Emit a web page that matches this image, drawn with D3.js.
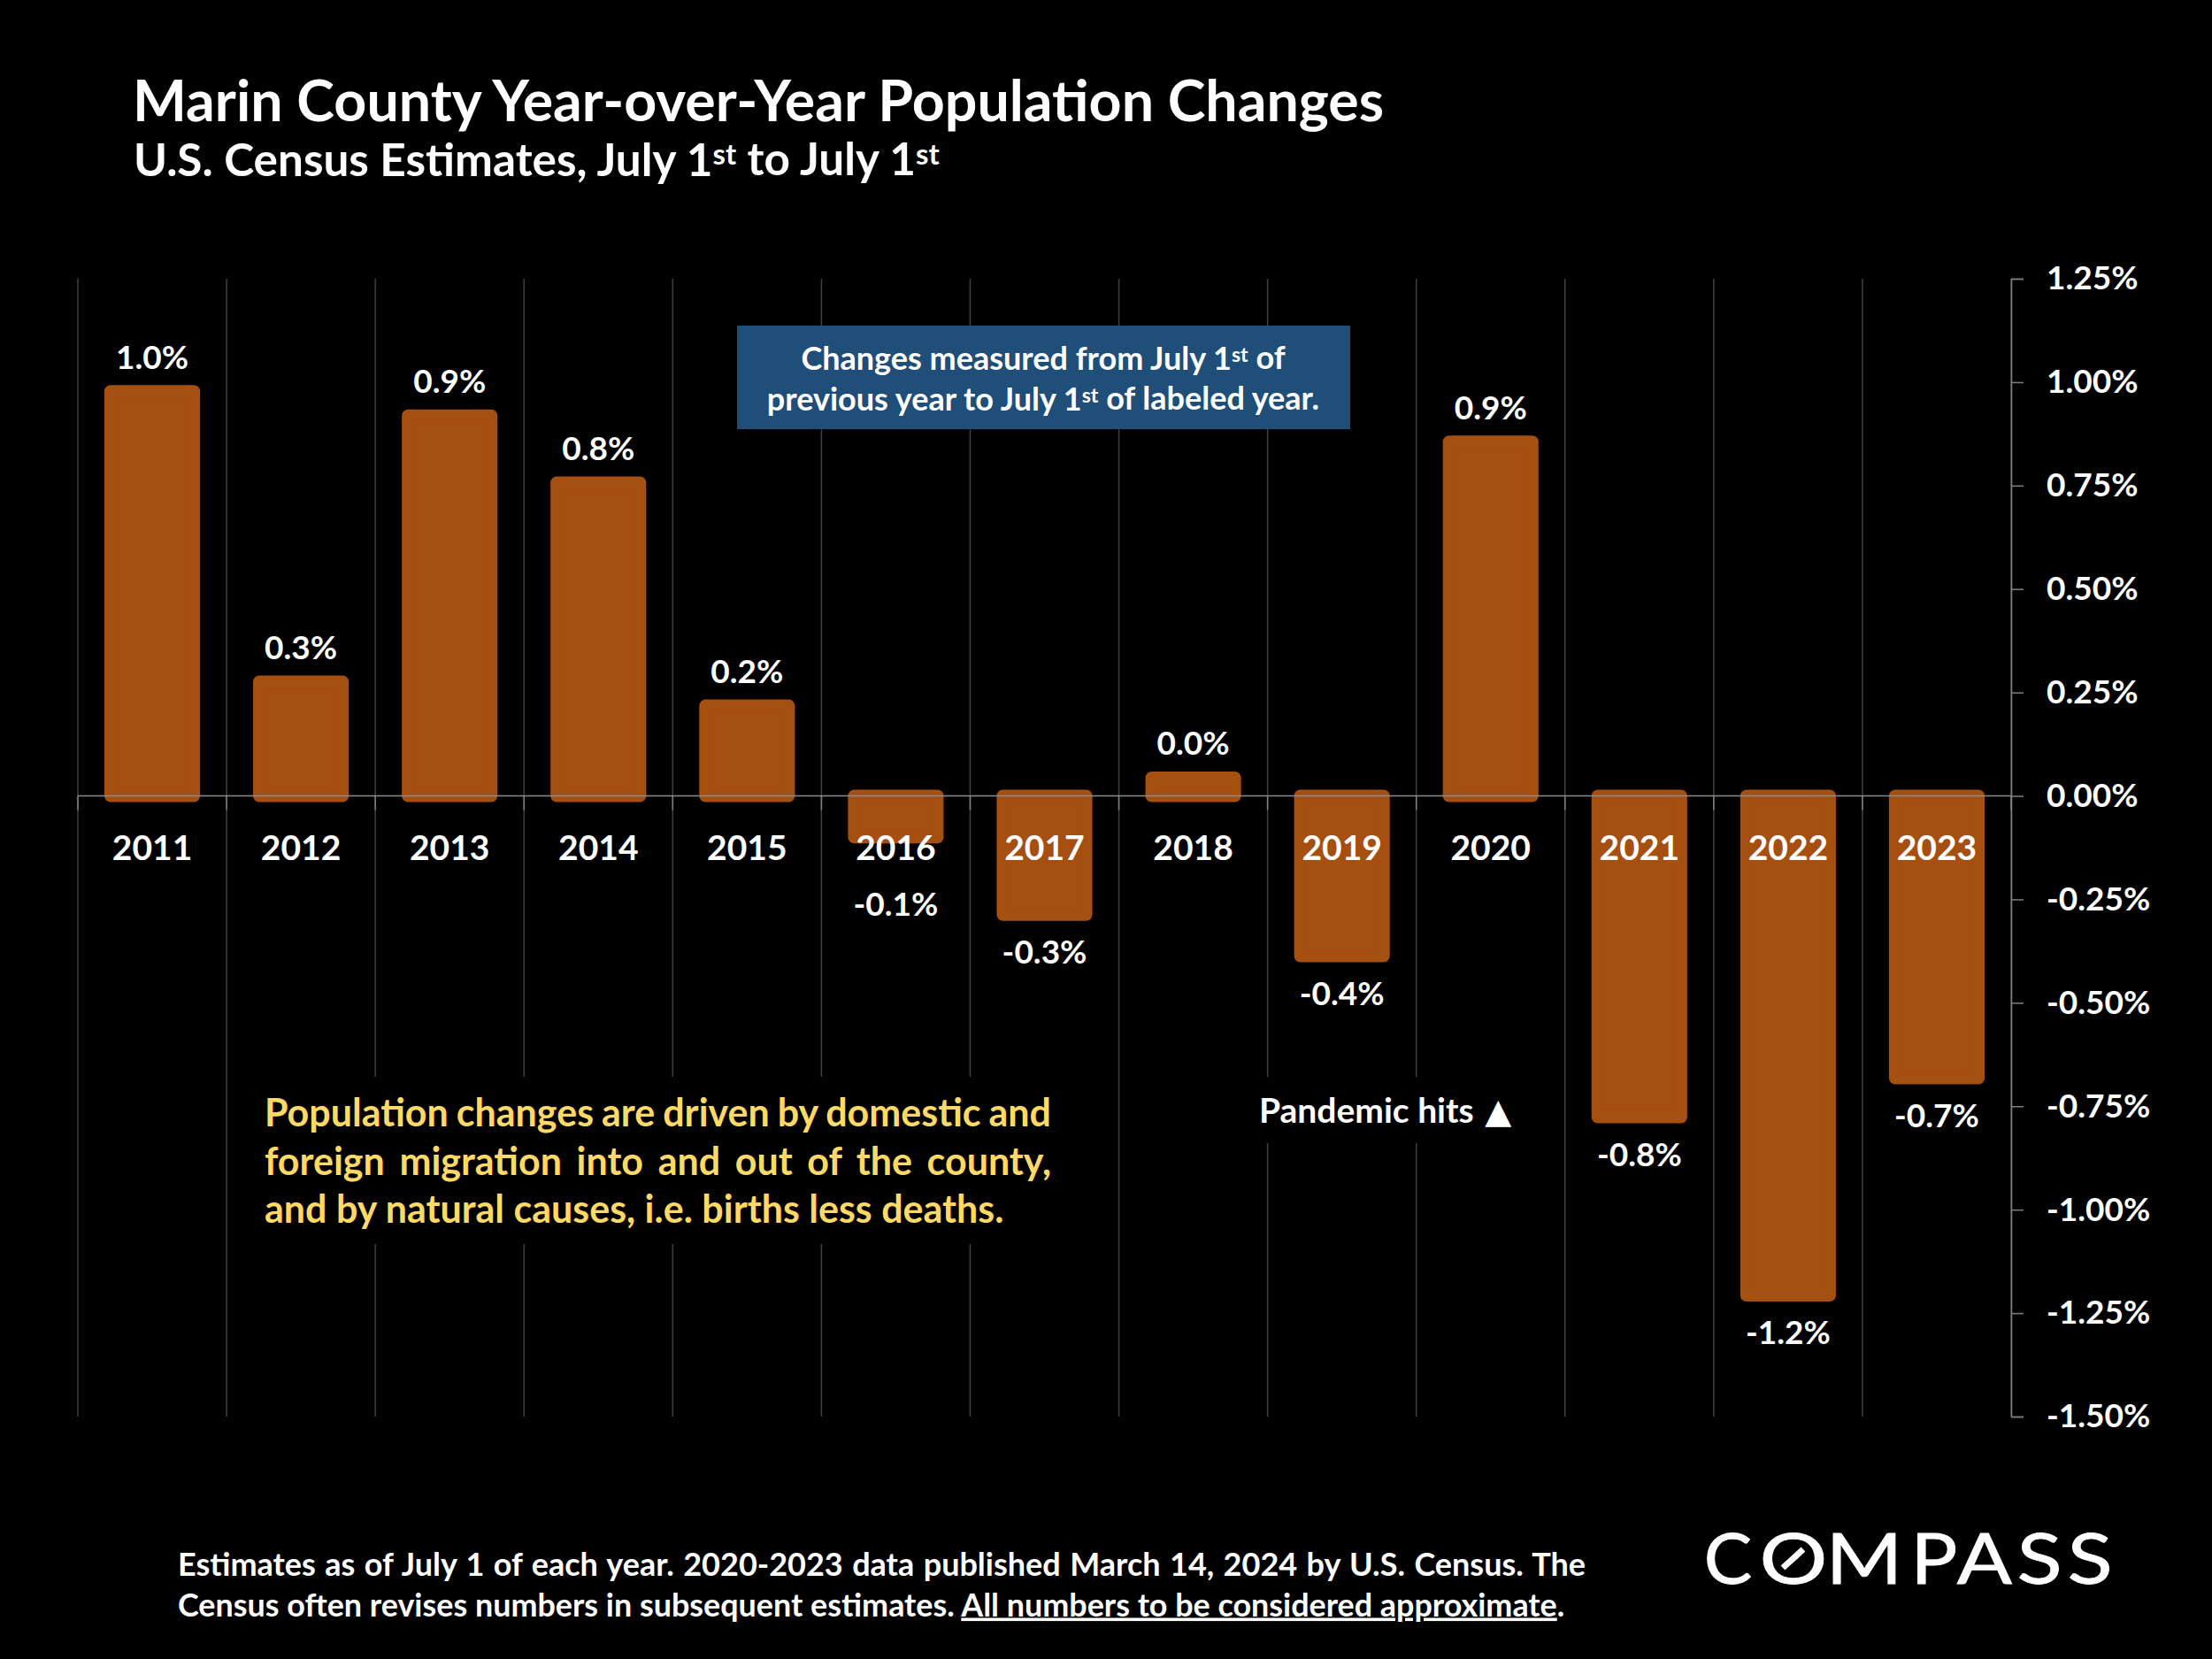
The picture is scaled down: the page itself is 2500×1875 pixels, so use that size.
<!DOCTYPE html>
<html>
<head>
<meta charset="utf-8">
<script src="https://cdn.jsdelivr.net/npm/d3@7"></script>
<style>
  html, body { margin: 0; padding: 0; background: #000; }
  svg { display: block; }
  text { font-family: Lato, sans-serif; font-weight: 700; fill: #fff; }
</style>
</head>
<body>
<svg id="chart" width="2500" height="1875"></svg>
<script>
// values
const years = ["2011","2012","2013","2014","2015","2016","2017","2018","2019","2020","2021","2022","2023"];
const changes = [0.978,0.276,0.919,0.757,0.218,-0.10,-0.287,0.044,-0.387,0.856,-0.776,-1.207,-0.682];
const yTicks = [1.25,1,0.75,0.5,0.25,0,-0.25,-0.5,-0.75,-1,-1.25,-1.5];

const noteLines = [
  ["Changes measured from July 1", "^st", " of"],
  ["previous year to July 1", "^st", " of labeled year."]
];
const driverLines = [
  "Population changes are driven by domestic and",
  "foreign migration into and out of the county,",
  "and by natural causes, i.e. births less deaths."
];
const footLine1 = "Estimates as of July 1 of each year. 2020-2023 data published March 14, 2024 by U.S. Census. The";
const footLine2 = "Census often revises numbers in subsequent estimates. ";
const footLine2u = "All numbers to be considered approximate";
const logoLetters = ["C","O","M","P","A","S","S"];

const svg = d3.select("#chart");
svg.append("rect").attr("width", 2500).attr("height", 1875).attr("fill", "#000");

const x = d3.scaleBand().domain(years).range([88, 2273]).paddingInner(0.44).paddingOuter(0.22);
const y = d3.scaleLinear().domain([-1.5, 1.25]).range([1601, 315]);
const step = x.step();

// writes "^"-marked pieces as superscripts
function rich(t, parts) {
  let up = false;
  parts.forEach(p => {
    const sup = p[0] === "^";
    const s = t.append("tspan").text(sup ? p.slice(1) : p);
    if (sup) { s.attr("dy", "-0.38em").attr("font-size", "0.64em"); up = true; }
    else if (up) { s.attr("dy", "0.243em"); up = false; }
  });
  return t;
}

// stretches the word gaps so a line fills the given width
function justify(t, width) {
  const len = t.node().getComputedTextLength();
  const gaps = t.text().split(" ").length - 1;
  t.attr("word-spacing", (width - len) / gaps);
}

// grid
const bounds = d3.range(years.length + 1).map(i => x.range()[0] + i * step);
svg.append("g").selectAll("line").data(bounds).enter().append("line")
  .attr("x1", d => d).attr("x2", d => d)
  .attr("y1", y(1.25)).attr("y2", y(-1.5))
  .attr("stroke", "#404040").attr("stroke-width", 1.5);
svg.append("g").selectAll("line").data(bounds).enter().append("line")
  .attr("x1", d => d).attr("x2", d => d)
  .attr("y1", y(0)).attr("y2", y(0) + 16)
  .attr("stroke", "#808080").attr("stroke-width", 1.5);

// masks behind the annotations
svg.append("rect").attr("x", 290).attr("y", 1217).attr("width", 920).attr("height", 189).attr("fill", "#000");
svg.append("rect").attr("x", 1410).attr("y", 1217).attr("width", 310).attr("height", 75).attr("fill", "#000");

// bars, the round stroke makes the soft corners
svg.append("g").selectAll("rect").data(changes).enter().append("rect")
  .attr("x", (d, i) => x(years[i]))
  .attr("width", x.bandwidth())
  .attr("y", d => Math.min(y(d), y(0)))
  .attr("height", d => Math.abs(y(d) - y(0)))
  .attr("fill", "#a54f10")
  .attr("stroke", "#a54f10")
  .attr("stroke-width", 14)
  .attr("stroke-linejoin", "round");

// zero line
svg.append("line")
  .attr("x1", 88).attr("x2", 2273).attr("y1", y(0)).attr("y2", y(0))
  .attr("stroke", "#8c8c8c").attr("stroke-width", 1.5);

// right axis
const yAxis = svg.append("g")
  .attr("transform", "translate(2273,0)")
  .call(d3.axisRight(y).tickValues(yTicks).tickSize(14).tickSizeOuter(14).tickPadding(26).tickFormat(d => d.toFixed(2) + "%"));
yAxis.selectAll("path, line").attr("stroke", "#808080").attr("stroke-width", 1.5);
yAxis.selectAll("text").attr("font-size", 37).attr("font-family", "Lato").attr("font-weight", 700).attr("fill", "#fff");

// year labels
svg.append("g").selectAll("text").data(years).enter().append("text")
  .attr("x", d => x(d) + x.bandwidth() / 2)
  .attr("y", 972)
  .attr("text-anchor", "middle")
  .attr("font-size", 39)
  .text(d => d);

// value labels
svg.append("g").selectAll("text").data(changes).enter().append("text")
  .attr("x", (d, i) => x(years[i]) + x.bandwidth() / 2)
  .attr("y", d => d >= 0 ? y(d) - 25.5 : Math.max(y(d) + 55.5, 1034.5))
  .attr("text-anchor", "middle")
  .attr("font-size", 37)
  .text(d => d.toFixed(1) + "%");

// titles
svg.append("text").attr("x", 150).attr("y", 136.5).attr("font-size", 64.5)
  .text("Marin County Year-over-Year Population Changes");
rich(svg.append("text").attr("x", 151).attr("y", 198.5).attr("font-size", 51.3),
  ["U.S. Census Estimates, July 1", "^st", " to July 1", "^st"]);

// note box
svg.append("rect").attr("x", 833).attr("y", 368).attr("width", 693).attr("height", 117).attr("fill", "#1f4e79");
noteLines.forEach((l, i) => {
  rich(svg.append("text").attr("x", 1179).attr("y", 417.5 + i * 46)
    .attr("text-anchor", "middle").attr("font-size", 36), l);
});

// yellow note
driverLines.forEach((l, i) => {
  const t = svg.append("text").attr("x", 299).attr("y", 1273 + i * 54.5)
    .attr("font-size", 43).style("fill", "#ffd966").text(l);
  if (i < 2) justify(t, 889);
});

// pandemic note
const pan = svg.append("text").attr("x", 1423).attr("y", 1268.5).attr("font-size", 39).text("Pandemic hits ");
pan.append("tspan").attr("font-family", "DejaVu Sans").attr("dx", 3).text("\u25B2");

// footer
justify(svg.append("text").attr("x", 201).attr("y", 1780.5).attr("font-size", 36).text(footLine1), 1591);
const foot = svg.append("text").attr("x", 201).attr("y", 1826.5).attr("font-size", 35.9);
foot.append("tspan").text(footLine2);
foot.append("tspan").attr("text-decoration", "underline").text(footLine2u);
foot.append("tspan").text(".");

// logo, each letter widened to the wordmark's proportions
const logoX = [1953, 2027, 2107, 2186, 2243, 2305, 2362];
const logoScale = [1.02, 1.2, 1.17, 1.1, 1.15, 1.18, 1.18];
svg.append("g").selectAll("text").data(logoLetters).enter().append("text")
  .attr("transform", (d, i) => `translate(${logoX[i]},1790) scale(${logoScale[i]},1)`)
  .attr("text-anchor", "middle")
  .attr("font-size", 80)
  .attr("stroke", "#fff").attr("stroke-width", 0.8)
  .style("font-weight", 400)
  .text(d => d);
svg.append("line").attr("x1", 2015).attr("y1", 1772).attr("x2", 2038).attr("y2", 1751)
  .attr("stroke", "#fff").attr("stroke-width", 7);
</script>
</body>
</html>
